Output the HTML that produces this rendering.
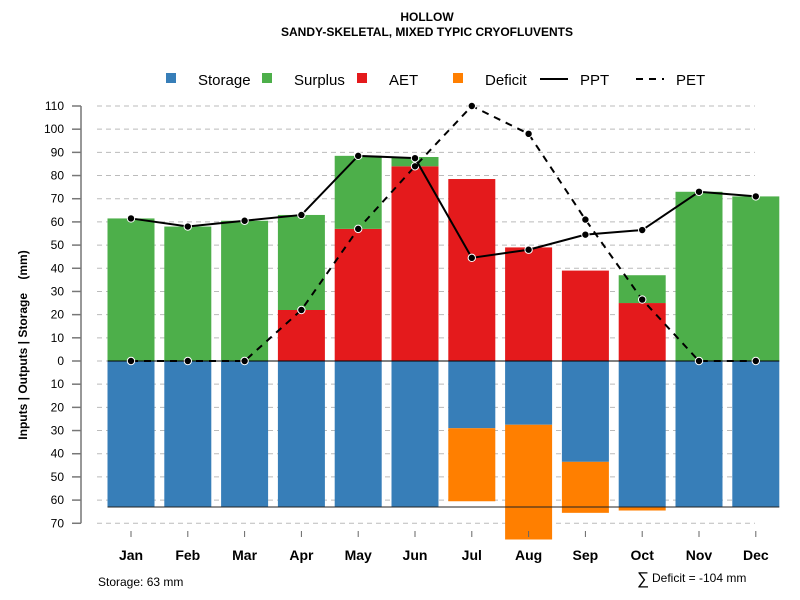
<!DOCTYPE html>
<html><head><meta charset="utf-8">
<style>
body{margin:0;background:#fff;}
svg{display:block;font-family:"Liberation Sans",sans-serif;}
</style></head>
<body>
<svg id="chart" width="800" height="600">
<text x="427" y="21" text-anchor="middle" font-size="12" font-weight="bold">HOLLOW</text>
<text x="427" y="36" text-anchor="middle" font-size="12" font-weight="bold">SANDY-SKELETAL, MIXED TYPIC CRYOFLUVENTS</text>
<g font-size="15">
<g><rect x="166" y="73" width="10" height="10" fill="#377EB8"/><text x="198" y="85">Storage</text></g>
<g><rect x="262" y="73" width="10" height="10" fill="#4DAF4A"/><text x="294" y="85">Surplus</text></g>
<g><rect x="357" y="73" width="10" height="10" fill="#E41A1C"/><text x="389" y="85">AET</text></g>
<g><rect x="453" y="73" width="10" height="10" fill="#FF7F00"/><text x="485" y="85">Deficit</text></g>
<g><line x1="540" y1="79" x2="568" y2="79" stroke="#000" stroke-width="2"/><text x="580" y="85">PPT</text></g>
<g><line x1="636" y1="79" x2="664" y2="79" stroke="#000" stroke-width="2" stroke-dasharray="7,6"/><text x="676" y="85">PET</text></g>
</g>
<text transform="translate(27,345) rotate(-90)" text-anchor="middle" font-size="12" font-weight="bold" xml:space="preserve" style="white-space:pre">Inputs | Outputs | Storage    (mm)</text>
<text x="98" y="586" font-size="12">Storage: 63 mm</text>
<g><text x="637" y="584" font-size="17">∑</text><text x="652" y="582" font-size="12">Deficit = -104 mm</text></g>
<g id="grid"></g><g id="bars"></g><g id="lines"></g><g id="axes"></g>
</svg>
<script>
const months=["Jan","Feb","Mar","Apr","May","Jun","Jul","Aug","Sep","Oct","Nov","Dec"];
const aet=[0,0,0,22,57,84,78.5,49,39,25,0,0];
const surplus=[61.5,58,60.5,41,31.5,4,0,0,0,12,73,71];
const storage=[63,63,63,63,63,63,29,27.5,43.5,63,63,63];
const deficit=[0,0,0,0,0,0,31.5,49.5,22,1.5,0,0];
const ppt=[61.5,58,60.5,63,88.5,87.5,44.5,48,54.5,56.5,73,71];
const pet=[0,0,0,22,57,84,110,98,61,26.5,0,0];
const yTicks=[110,100,90,80,70,60,50,40,30,20,10,0,-10,-20,-30,-40,-50,-60,-70];
const storageTotal=63;
const NS="http://www.w3.org/2000/svg";
const y=v=>361-v*255/110;
const x=i=>131+i*56.8;
const bw=47;
function mk(tag,attrs,parent){const e=document.createElementNS(NS,tag);for(const k in attrs)e.setAttribute(k,attrs[k]);parent.appendChild(e);return e;}
const G=document.getElementById('grid'),B=document.getElementById('bars'),L=document.getElementById('lines'),A=document.getElementById('axes');
yTicks.forEach(t=>{
 const g=mk('line',{x1:97,x2:755,y1:y(t),y2:y(t),stroke:'#bbb','stroke-dasharray':'5,4'},G);
 
 
 const tk=mk('line',{x1:72,x2:81,y1:y(t),y2:y(t),stroke:'#777','stroke-width':1.5},A);
 
 
 const tx=mk('text',{x:64,y:y(t)+4,'text-anchor':'end','font-size':12},A);
 tx.textContent=Math.abs(t);
 
 
});
const ax=mk('line',{x1:81,x2:81,y1:y(110),y2:y(-70),stroke:'#777','stroke-width':1.5},A);


months.forEach((m,i)=>{
 const cx=x(i),l=cx-bw/2;
 const segs=[[0,aet[i],'#E41A1C','bar-aet'],[aet[i],aet[i]+surplus[i],'#4DAF4A','bar-surplus'],[0,-storage[i],'#377EB8','bar-storage'],[-storage[i],-storage[i]-deficit[i],'#FF7F00','bar-deficit']];
 segs.forEach(s=>{
  if(Math.abs(s[1]-s[0])<0.01)return;
  const top=Math.min(y(s[0]),y(s[1])),h=Math.abs(y(s[0])-y(s[1]));
  const r=mk('rect',{x:l,y:top,width:bw,height:h,fill:s[2]},B);
  
  
 });
 const tk=mk('line',{x1:cx,x2:cx,y1:531,y2:537,stroke:'#666','stroke-width':1},A);
 
 
 const tx=mk('text',{x:cx,y:560,'text-anchor':'middle','font-size':14,'font-weight':'bold'},A);
 tx.textContent=m;
 
 
});
const zl=mk('line',{x1:x(0)-bw/2,x2:x(11)+bw/2,y1:y(0),y2:y(0),stroke:'#000','stroke-width':1},L);


const sl=mk('line',{x1:x(0)-bw/2,x2:x(11)+bw/2,y1:y(-storageTotal),y2:y(-storageTotal),stroke:'#222','stroke-width':1},L);


[[pet,'pet-line','7,6'],[ppt,'ppt-line','none']].forEach(s=>{
 const p=mk('polyline',{points:s[0].map((v,i)=>x(i)+','+y(v)).join(' '),fill:'none',stroke:'#000','stroke-width':2,'stroke-dasharray':s[2]},L);
 
 
 s[0].forEach((v,i)=>{
  const c=mk('circle',{cx:x(i),cy:y(v),r:3.7,fill:'#000',stroke:'#fff','stroke-width':1},L);
  
  
 });
});
</script>
</body></html>
